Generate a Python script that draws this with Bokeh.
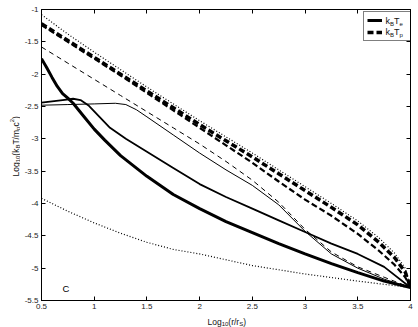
import math
from bokeh.plotting import figure
from bokeh.layouts import row, column
from bokeh.models import Range1d, FixedTicker, LinearAxis, Label, Legend, LegendItem, Plot
from bokeh.embed import file_html
from bokeh.resources import INLINE

# ---------------- data ----------------
x_ticks = [0.5, 1, 1.5, 2, 2.5, 3, 3.5, 4]
x_tick_labels = ["0.5", "1", "1.5", "2", "2.5", "3", "3.5", "4"]
y_ticks = [-5.5, -5, -4.5, -4, -3.5, -3, -2.5, -2, -1.5, -1]
y_tick_labels = ["-5.5", "-5", "-4.5", "-4", "-3.5", "-3", "-2.5", "-2", "-1.5", "-1"]

# electron temperature, model 1 (thick solid)
te1_x = [0.5, 0.55, 0.6, 0.65, 0.7, 0.75, 0.8, 0.9, 1.0, 1.1, 1.25, 1.5, 1.75, 2.0, 2.25, 2.5, 2.75, 3.0, 3.25, 3.5, 3.75, 4.0]
te1_y = [-1.76, -1.9, -2.05, -2.19, -2.3, -2.37, -2.45, -2.65, -2.85, -3.02, -3.26, -3.58, -3.86, -4.08, -4.28, -4.45, -4.62, -4.78, -4.93, -5.07, -5.2, -5.3]
# electron temperature, model 2 (medium solid)
te2_x = [0.5, 0.6, 0.7, 0.8, 0.87, 0.95, 1.05, 1.15, 1.3, 1.5, 1.75, 2.0, 2.25, 2.5, 2.75, 3.0, 3.25, 3.5, 3.75, 4.0]
te2_y = [-2.44, -2.42, -2.4, -2.38, -2.4, -2.49, -2.66, -2.83, -3.0, -3.2, -3.45, -3.7, -3.9, -4.08, -4.26, -4.44, -4.62, -4.78, -4.98, -5.3]
# electron temperature, model 3 (thin solid)
te3_x = [0.5, 0.75, 1.0, 1.2, 1.3, 1.4, 1.5, 1.75, 2.0, 2.25, 2.5, 2.75, 3.0, 3.25, 3.5, 3.75, 4.0]
te3_y = [-2.48, -2.47, -2.46, -2.45, -2.47, -2.55, -2.66, -2.94, -3.22, -3.48, -3.72, -4.02, -4.43, -4.78, -5.0, -5.17, -5.3]
# proton temperature, model 1 (thick dashed)
tp1_x = [0.5, 0.75, 1.0, 1.25, 1.5, 1.75, 2.0, 2.25, 2.5, 2.75, 3.0, 3.25, 3.5, 3.7, 3.85, 3.95, 4.0]
tp1_y = [-1.22, -1.48, -1.74, -2.0, -2.26, -2.52, -2.78, -3.03, -3.28, -3.54, -3.8, -4.06, -4.33, -4.6, -4.84, -5.06, -5.3]
# proton temperature, model 2 (medium dashed)
tp2_x = [0.5, 0.75, 1.0, 1.25, 1.5, 1.75, 2.0, 2.25, 2.5, 2.75, 3.0, 3.25, 3.5, 3.7, 3.85, 3.95, 4.0]
tp2_y = [-1.24, -1.5, -1.76, -2.02, -2.29, -2.56, -2.83, -3.1, -3.37, -3.66, -3.94, -4.19, -4.47, -4.73, -4.95, -5.14, -5.3]
# proton temperature, model 3 (thin dashed)
tp3_x = [0.5, 0.75, 1.0, 1.25, 1.5, 1.75, 2.0, 2.25, 2.5, 2.75, 3.0, 3.25, 3.5, 3.75, 4.0]
tp3_y = [-1.58, -1.83, -2.08, -2.33, -2.58, -2.83, -3.08, -3.35, -3.64, -3.98, -4.4, -4.75, -4.98, -5.14, -5.3]
# upper dotted reference curve
dot_hi_x = [0.5, 0.75, 1.0, 1.25, 1.5, 1.75, 2.0, 2.25, 2.5, 2.75, 3.0, 3.25, 3.5, 3.7, 3.85, 3.95, 4.0]
dot_hi_y = [-1.08, -1.38, -1.66, -1.93, -2.2, -2.46, -2.72, -2.97, -3.22, -3.48, -3.74, -4.0, -4.27, -4.53, -4.77, -5.0, -5.3]
# lower dotted reference curve
dot_lo_x = [0.5, 0.75, 1.0, 1.25, 1.5, 1.75, 2.0, 2.5, 3.0, 3.5, 4.0]
dot_lo_y = [-3.92, -4.12, -4.3, -4.46, -4.6, -4.71, -4.78, -4.96, -5.09, -5.2, -5.3]

FONT = "Liberation Sans"

# ---------------- main plot ----------------
p = figure(width=398, height=314, output_backend="svg", toolbar_location=None,
           x_range=Range1d(0.5, 4), y_range=Range1d(-5.5, -1),
           min_border_left=21, min_border_right=8, min_border_top=9, min_border_bottom=14)
p.background_fill_color = "white"
p.border_fill_color = "white"
p.outline_line_color = "black"
p.outline_line_width = 1
p.xgrid.visible = False
p.ygrid.visible = False

def style_axis(ax, ticks, labels, show_labels, standoff):
    ax.ticker = FixedTicker(ticks=ticks)
    ax.major_label_overrides = {t: s for t, s in zip(ticks, labels)}
    ax.major_tick_in = 4
    ax.major_tick_out = 0
    ax.minor_tick_line_color = None
    ax.axis_line_color = "black"
    ax.major_tick_line_color = "black"
    ax.major_label_text_font = FONT
    ax.major_label_text_color = "#222222"
    ax.major_label_standoff = standoff
    if show_labels:
        ax.major_label_text_font_size = "8px"
    else:
        ax.major_label_text_font_size = "0px"
        ax.major_label_text_alpha = 0

style_axis(p.xaxis[0], x_ticks, x_tick_labels, True, 3)
style_axis(p.yaxis[0], y_ticks, y_tick_labels, True, 3)
ax_top = LinearAxis()
ax_right = LinearAxis()
style_axis(ax_top, x_ticks, x_tick_labels, False, 0)
style_axis(ax_right, y_ticks, y_tick_labels, False, 0)
p.add_layout(ax_top, "above")
p.add_layout(ax_right, "right")

# ---------------- curves ----------------
p.line(dot_lo_x, dot_lo_y, line_color="black", line_width=1.2, line_dash="1 2")
p.line(te3_x, te3_y, line_color="black", line_width=1)
p.line(tp3_x, tp3_y, line_color="black", line_width=1, line_dash="5 4")
p.line(te2_x, te2_y, line_color="black", line_width=1.8)
p.line(tp2_x, tp2_y, line_color="black", line_width=2.2, line_dash="6 3")
r_te = p.line(te1_x, te1_y, line_color="black", line_width=3)
r_tp = p.line(tp1_x, tp1_y, line_color="black", line_width=3.5, line_dash="6 3")
p.line(dot_hi_x, dot_hi_y, line_color="black", line_width=1.2, line_dash="1 2")

# ---------------- legend (glyphs + frame) ----------------
legend = Legend(items=[LegendItem(label=" ", renderers=[r_te]),
                       LegendItem(label=" ", renderers=[r_tp])],
                location=(322, 259), orientation="vertical",
                padding=3, spacing=2, margin=0,
                glyph_width=15, glyph_height=10, label_height=10, label_width=22,
                label_standoff=3, label_text_font_size="1px",
                border_line_color="black", border_line_width=1,
                background_fill_color="white", background_fill_alpha=0)
p.add_layout(legend)

# ---------------- text helpers ----------------
EM = {"L": .556, "o": .556, "g": .556, "1": .556, "0": .556, "(": .333, ")": .333,
      "k": .5, "B": .667, "T": .611, "/": .278, "m": .833, "p": .556, "c": .5,
      "2": .556, "r": .333, "S": .667, "e": .556, " ": .278}

def width(s, size):
    return sum(EM.get(ch, .556) for ch in s) * size

def compose(fig, pieces, x0, y0, main, small, angle=0.0, sub=2.5, sup=3.5):
    """pieces: list of (text, kind) with kind in n/sub/sup; screen units relative to the frame."""
    adv = 0.0
    for text, kind in pieces:
        size = main if kind == "n" else small
        shift = {"n": 0.0, "sub": -sub, "sup": sup}[kind]
        if angle == 0:
            x, y = x0 + adv, y0 + shift
        else:
            x, y = x0 - shift, y0 + adv
        fig.add_layout(Label(x=x, y=y, x_units="screen", y_units="screen", text=text,
                             text_font=FONT, text_font_size=f"{size}px", text_color="#111111",
                             text_align="left", text_baseline="alphabetic", angle=angle,
                             level="overlay"))
        adv += width(text, size)

def text_panel(w, h):
    f = Plot(width=w, height=h, output_backend="svg", toolbar_location=None,
             x_range=Range1d(0, 1), y_range=Range1d(0, 1),
             min_border_left=0, min_border_right=0, min_border_top=0, min_border_bottom=0)
    f.outline_line_color = None
    f.background_fill_color = "white"
    f.border_fill_color = "white"
    return f

# legend texts (k_B T_e, k_B T_p)
compose(p, [("k", "n"), ("B", "sub"), ("T", "n"), ("e", "sub")], 344, 280, 9, 6, sub=3)
compose(p, [("k", "n"), ("B", "sub"), ("T", "n"), ("p", "sub")], 344, 268.3, 9, 6, sub=3)
# panel letter
p.add_layout(Label(x=21, y=12, x_units="screen", y_units="screen", text="C",
                   text_font=FONT, text_font_size="9.5px", text_color="black",
                   text_baseline="alphabetic", level="overlay"))

# y axis label panel: Log10(kBT/mpc2)
left = text_panel(20, 327)
compose(left, [("Log", "n"), ("10", "sub"), ("(k", "n"), ("B", "sub"), ("T/m", "n"),
               ("p", "sub"), ("c", "n"), ("2", "sup"), (")", "n")],
        15, 151, 8.5, 6, angle=math.pi / 2)

# x axis label panel: Log10(r/rS)
bottom = text_panel(398, 13)
compose(bottom, [("Log", "n"), ("10", "sub"), ("(r/r", "n"), ("S", "sub"), (")", "n")],
        166, 6, 8.5, 6)

layout = row(left, column(p, bottom, spacing=0), spacing=0)

open("out.html", "w").write(file_html(layout, INLINE))
